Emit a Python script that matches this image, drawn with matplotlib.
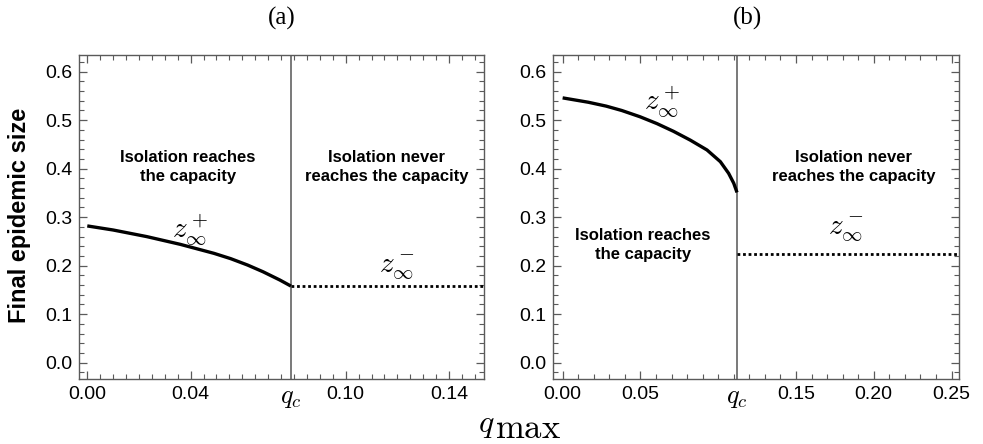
import numpy as np
import matplotlib.pyplot as plt
from matplotlib.ticker import MultipleLocator
import matplotlib.transforms as mtransforms

plt.rcParams['font.family'] = ['Liberation Sans', 'DejaVu Sans']
plt.rcParams['mathtext.fontset'] = 'cm'

# panel (a)
qc_a = 0.0788
q_plus_a = [0.0, 0.010, 0.023, 0.036, 0.049, 0.0555, 0.062, 0.068, 0.0745, 0.0788]
z_plus_a = [0.282, 0.2736, 0.260, 0.244, 0.2255, 0.2145, 0.2014, 0.1875, 0.1705, 0.158]
z_minus_a = 0.158
xmax_a = 0.1535
ticks_a = [0.0, 0.04, 0.10, 0.14]
labels_a = ['0.00', '0.04', '0.10', '0.14']

# panel (b)
qc_b = 0.1121
q_plus_b = [0.0, 0.0165, 0.028, 0.038, 0.0498, 0.0606, 0.0713, 0.082, 0.0928,
            0.1014, 0.1067, 0.110, 0.1121]
z_plus_b = [0.546, 0.537, 0.529, 0.520, 0.507, 0.493, 0.477, 0.459, 0.4386,
            0.4144, 0.3905, 0.370, 0.351]
z_minus_b = 0.225
xmax_b = 0.255
ticks_b = [0.0, 0.05, 0.15, 0.20, 0.25]
labels_b = ['0.00', '0.05', '0.15', '0.20', '0.25']

fig = plt.figure(figsize=(9.83, 4.44), dpi=100)
ax1 = fig.add_axes([79 / 983, 1 - 379 / 444, 405 / 983, 324 / 444])
ax2 = fig.add_axes([553.3 / 983, 1 - 379 / 444, 406 / 983, 324 / 444])

frame = '#5a5a5a'


def style(ax, ticks, labels, qc, xmin, xmax, minor):
    ax.set_xlim(xmin, xmax)
    ax.set_ylim(-0.0336, 0.6344)
    ax.set_xticks(ticks)
    ax.set_xticklabels(labels)
    ax.xaxis.set_minor_locator(MultipleLocator(minor))
    ax.set_yticks([0.0, 0.1, 0.2, 0.3, 0.4, 0.5, 0.6])
    ax.set_yticklabels(['0.0', '0.1', '0.2', '0.3', '0.4', '0.5', '0.6'])
    ax.yaxis.set_minor_locator(MultipleLocator(0.02))
    ax.tick_params(which='both', direction='in', top=True, right=True,
                   color=frame, labelsize=14, pad=5)
    ax.tick_params(which='major', length=6, width=0.9)
    ax.tick_params(which='minor', length=3.5, width=0.8)
    for s in ax.spines.values():
        s.set_color(frame)
        s.set_linewidth(1.0)
    trans = mtransforms.blended_transform_factory(ax.transData, ax.transAxes)
    ax.text(qc, -0.022, '$q_c$', transform=trans, ha='center', va='top', fontsize=19)
    ax.axvline(qc, color='#6e6e6e', lw=1.3)


style(ax1, ticks_a, labels_a, qc_a, -0.0032, xmax_a, 0.005)
style(ax2, ticks_b, labels_b, qc_b, -0.006, xmax_b, 0.01)

ax1.plot(q_plus_a, z_plus_a, color='black', lw=2.4, solid_capstyle='butt')
ax1.plot([qc_a, xmax_a], [z_minus_a, z_minus_a], color='black', lw=2.0,
         linestyle=(0, (1, 1)))
ax2.plot(q_plus_b, z_plus_b, color='black', lw=2.4, solid_capstyle='butt')
ax2.plot([qc_b, xmax_b], [z_minus_b, z_minus_b], color='black', lw=2.0,
         linestyle=(0, (1, 1)))

txt = dict(ha='center', va='center', fontsize=12, fontweight='bold', linespacing=1.35)
ax1.text(0.039, 0.403, 'Isolation reaches\nthe capacity', **txt)
ax1.text(0.1158, 0.403, 'Isolation never\nreaches the capacity', **txt)
ax2.text(0.0515, 0.2427, 'Isolation reaches\nthe capacity', **txt)
ax2.text(0.1873, 0.403, 'Isolation never\nreaches the capacity', **txt)

zl = dict(ha='center', va='center', fontsize=21)
ax1.text(0.0397, 0.274, r'$z_\infty^+$', **zl)
ax1.text(0.1197, 0.196, r'$z_\infty^-$', **zl)
ax2.text(0.064, 0.538, r'$z_\infty^+$', **zl)
ax2.text(0.182, 0.274, r'$z_\infty^-$', **zl)

fig.text(282 / 983, 1 - 18 / 444, '(a)', ha='center', va='center', fontsize=18,
         family='Liberation Serif')
fig.text(747 / 983, 1 - 18 / 444, '(b)', ha='center', va='center', fontsize=18,
         family='Liberation Serif')
fig.text(20 / 983, 1 - 215 / 444, 'Final epidemic size', rotation=90, ha='center',
         va='center', fontsize=17, fontweight='bold')
fig.text(478 / 983, 1 - 432 / 444, '$q$', ha='left', va='baseline', fontsize=23)
fig.text(495 / 983, 1 - 438 / 444, r'$\mathrm{max}$', ha='left', va='baseline', fontsize=25)

fig.savefig('out.png', dpi=100)
